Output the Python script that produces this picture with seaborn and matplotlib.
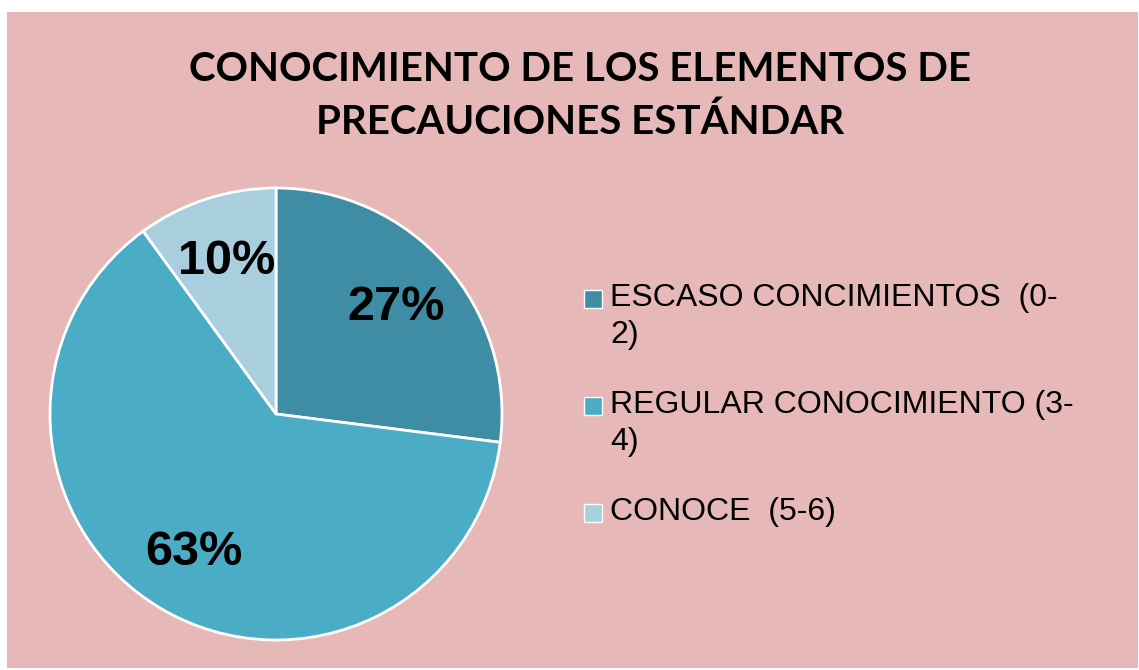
import matplotlib.pyplot as plt
import matplotlib.patches as mpatches
import seaborn as sns

categories = ["ESCASO CONCIMIENTOS  (0-\n2)", "REGULAR CONOCIMIENTO (3-\n4)", "CONOCE  (5-6)"]
values = [27, 63, 10]
colors = ["#3F8DA5", "#4BACC6", "#A9CFDE"]
title = "CONOCIMIENTO DE LOS ELEMENTOS DE\nPRECAUCIONES ESTÁNDAR"

sns.set_style("white")
plt.rcParams["font.family"] = ["Liberation Sans", "DejaVu Sans"]
plt.rcParams["text.color"] = "black"

W, H = 1139, 670
fig = plt.figure(figsize=(W / 100, H / 100), dpi=100, facecolor="white")

# pink chart area
bg = mpatches.Rectangle((7 / W, 2 / H), 1131 / W, 656 / H, transform=fig.transFigure,
                        facecolor="#E6B8B7", edgecolor="none", zorder=-5)
fig.patches.append(bg)

cx, cy, r = 276, 670 - 414, 226
ax = fig.add_axes([(cx - r) / W, (cy - r) / H, 2 * r / W, 2 * r / H])
ax.set_zorder(2)
ax.set_facecolor("none")

wedges, texts, autotexts = ax.pie(
    values, colors=colors, startangle=90, counterclock=False,
    autopct="%1.0f%%", pctdistance=0.71,
    wedgeprops=dict(edgecolor="white", linewidth=2),
    textprops=dict(fontsize=35, fontweight="bold", color="black"))
ax.set_xlim(-1, 1)
ax.set_ylim(-1, 1)
ax.set_aspect("equal")
ax.axis("off")

# legend: square marker level with the first line of each label
for i, (label, color) in enumerate(zip(categories, colors)):
    ytop = 290 + 107 * i
    fig.patches.append(mpatches.Rectangle((584 / W, 1 - (ytop + 18) / H), 18 / W, 18 / H,
                                          transform=fig.transFigure, facecolor=color,
                                          edgecolor="white", linewidth=1, zorder=3))
    fig.text(610 / W, 1 - (ytop - 7) / H, label, ha="left", va="top", fontsize=23,
             color="black", linespacing=1.32, zorder=3)

fig.text(580 / W, 1 - 96 / H, title, ha="center", va="center", fontsize=29,
         fontweight="bold", family=["Lato", "DejaVu Sans"], linespacing=1.5, color="black")

fig.savefig("out.png", dpi=100, facecolor=fig.get_facecolor())
